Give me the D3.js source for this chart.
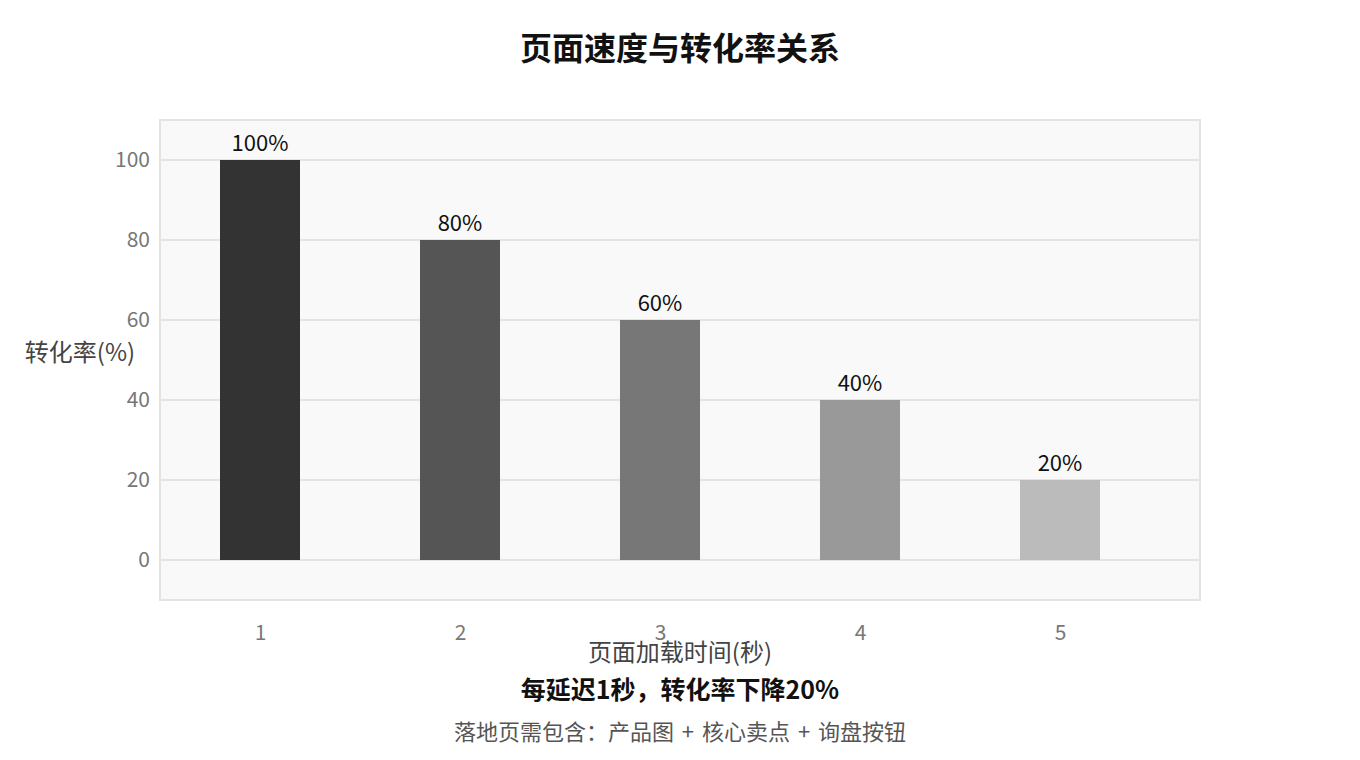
<!DOCTYPE html>
<html>
<head>
<meta charset="utf-8">
<script src="https://cdn.jsdelivr.net/npm/d3@7"></script>
<style>
  body { margin: 0; background: #fff; }
  text { font-family: "Noto Sans CJK SC", "Noto Sans", sans-serif; }
</style>
</head>
<body>
<div id="viz"></div>
<script>
// chart data
const loadSeconds = [1, 2, 3, 4, 5];
const conversionRates = [100, 80, 60, 40, 20];
const barColors = ["#333333", "#555555", "#777777", "#999999", "#bbbbbb"];
const yTicks = [0, 20, 40, 60, 80, 100];

const width = 1360;
const height = 760;
const plot = { left: 160, right: 1200, top: 120, bottom: 600 };

const svg = d3.select("#viz")
  .append("svg")
  .attr("width", width)
  .attr("height", height);

// x runs a bit past the last bar, so the plot has extra room on the right
const x = d3.scaleLinear().domain([0.5, 5.7]).range([plot.left, plot.right]);
const y = d3.scaleLinear().domain([-10, 110]).range([plot.bottom, plot.top]);
const barWidth = x(1.2) - x(0.8);

// plot background
svg.append("rect")
  .attr("x", plot.left)
  .attr("y", plot.top)
  .attr("width", plot.right - plot.left)
  .attr("height", plot.bottom - plot.top)
  .attr("fill", "#f9f9f9")
  .attr("stroke", "#e3e3e3")
  .attr("stroke-width", 2);

// grid lines
svg.append("g")
  .selectAll("line")
  .data(yTicks)
  .join("line")
  .attr("x1", plot.left)
  .attr("x2", plot.right)
  .attr("y1", d => y(d))
  .attr("y2", d => y(d))
  .attr("stroke", "#e3e3e3")
  .attr("stroke-width", 2);

// y axis
const yAxis = svg.append("g")
  .attr("transform", `translate(${plot.left},0)`)
  .call(d3.axisLeft(y).tickValues(yTicks).tickSize(0).tickPadding(10));
yAxis.select(".domain").remove();
yAxis.selectAll("text")
  .attr("fill", "#777")
  .style("font-size", "21px");

// x axis
const xAxis = svg.append("g")
  .attr("transform", `translate(0,${plot.bottom})`)
  .call(d3.axisBottom(x).tickValues(loadSeconds).tickFormat(d3.format("d")).tickSize(0).tickPadding(25));
xAxis.select(".domain").remove();
xAxis.selectAll("text")
  .attr("fill", "#777")
  .style("font-size", "21px");

const data = loadSeconds.map((s, i) => ({ s, v: conversionRates[i], c: barColors[i] }));

// bars
svg.append("g")
  .selectAll("rect")
  .data(data)
  .join("rect")
  .attr("x", d => x(d.s) - barWidth / 2)
  .attr("y", d => y(d.v))
  .attr("width", barWidth)
  .attr("height", d => y(0) - y(d.v))
  .attr("fill", d => d.c);

// value labels
svg.append("g")
  .selectAll("text")
  .data(data)
  .join("text")
  .attr("x", d => x(d.s))
  .attr("y", d => y(d.v) - 9)
  .attr("text-anchor", "middle")
  .attr("fill", "#111")
  .style("font-size", "22px")
  .text(d => d.v + "%");

// titles
svg.append("text")
  .attr("x", 680).attr("y", 60)
  .attr("text-anchor", "middle")
  .attr("fill", "#111")
  .style("font-size", "32px")
  .style("font-weight", "bold")
  .text("页面速度与转化率关系");

svg.append("text")
  .attr("x", 80).attr("y", 361)
  .attr("text-anchor", "middle")
  .attr("fill", "#444")
  .style("font-size", "24px")
  .text("转化率(%)");

svg.append("text")
  .attr("x", 680).attr("y", 661)
  .attr("text-anchor", "middle")
  .attr("fill", "#444")
  .style("font-size", "24px")
  .text("页面加载时间(秒)");

svg.append("text")
  .attr("x", 680).attr("y", 699)
  .attr("text-anchor", "middle")
  .attr("fill", "#111")
  .style("font-size", "25px")
  .style("font-weight", "bold")
  .text("每延迟1秒，转化率下降20%");

svg.append("text")
  .attr("x", 680).attr("y", 740)
  .attr("text-anchor", "middle")
  .attr("fill", "#555")
  .style("font-size", "22px")
  .style("word-spacing", "3px")
  .text("落地页需包含：产品图 + 核心卖点 + 询盘按钮");
</script>
</body>
</html>
